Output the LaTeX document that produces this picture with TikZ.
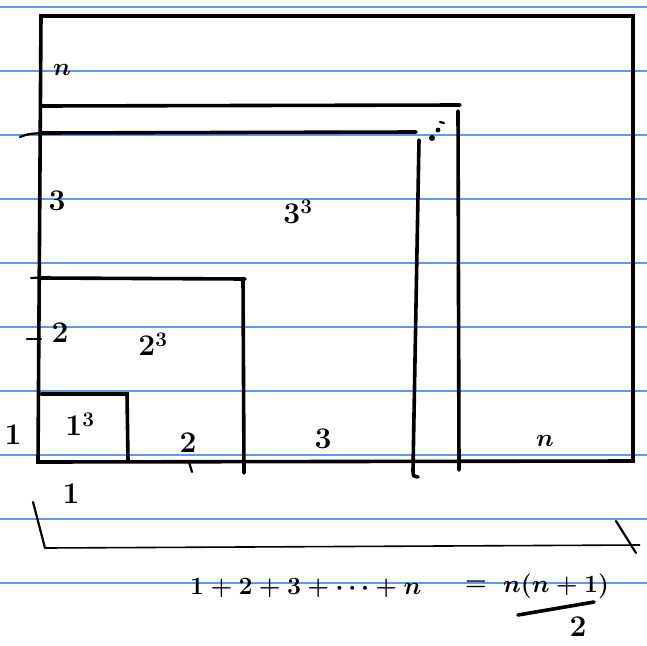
\documentclass[tikz,border=0pt]{standalone}
\usetikzlibrary{calc}
\definecolor{rule}{RGB}{95,155,225}
\tikzset{
  ruled/.style={draw=rule,line width=1.2pt},
  ink/.style={draw=black,line width=3.6pt,line cap=round},
  thin ink/.style={draw=black,line width=2.2pt,line cap=round},
  lbl/.style={inner sep=0pt,font=\fontsize{30}{34}\selectfont\bfseries\boldmath}
}
\begin{document}
\begin{tikzpicture}[x=1pt,y=-1pt]
\useasboundingbox (0,0) rectangle (647,645);
\fill[white] (0,0) rectangle (647,645);
% ruled paper
\foreach \yy in {7,71,135,199,263,327,391,455,519,583}
  \draw[ruled] (0,\yy) -- (647,\yy);
% outer n-square
\draw[ink] (41,16) -- (633,16) -- (633,461) -- (38,462) -- cycle;
% n strip
\draw[ink] (41,106) -- (460,105);
\draw[ink] (458,111) -- (459,470);
% (n-1) square
\draw[ink] (41,133) -- (416,132);
\draw[thin ink] (20,137) .. controls (28,134) .. (41,133);
\draw[ink] (419,140) -- (413,470) .. controls (413,476) .. (418,477);
% 2-square
\draw[ink] (41,278) -- (245,279);
\draw[thin ink] (31,278) -- (50,277);
\draw[ink] (243,279) -- (244,473);
% 1-square
\draw[ink] (41,394) -- (127,394) -- (128,461);
% ticks
\draw[thin ink] (27,339) -- (41,339);
\draw[thin ink] (189,462) -- (192,472);
% dots
\fill (432,138) circle (3);
\fill (438,130) circle (2.4);
\draw[thin ink] (440,122) -- (444,123);
% side labels
\node[lbl] (ln) at (62,70) {$n$};
\node[lbl] (l3) at (57,201) {3};
\node[lbl] (l2) at (60,333) {2};
\node[lbl] (l1) at (13,435) {1};
% cube labels
\node[lbl] (c1) at (80,424) {1$^3$};
\node[lbl] (c2) at (153,344) {2$^3$};
\node[lbl] (c3) at (298,212) {3$^3$};
% bottom labels
\node[lbl] (b2) at (188,443) {2};
\node[lbl] (b3) at (323,439) {3};
\node[lbl] (bn) at (545,441) {$n$};
\node[lbl] (b1) at (71,494) {1};
% brace
\coordinate (bl) at (45,548);
\coordinate (br) at (640,545);
\draw[thin ink] (33,502) -- (bl);
\draw[line width=1.6pt] (bl) -- (br);
\draw[thin ink] (616,521) -- (636,553);
% formula
\node[lbl,anchor=west] (sum) at (190,588) {$1+2+3+\cdots+n$};
\node[lbl] (eq) at (476,586) {$=$};
\node[lbl,anchor=west] (num) at (503,586) {$n(n+1)$};
\coordinate (fb1) at (518,615);
\coordinate (fb2) at (594,602);
\draw[ink] (fb1) -- (fb2);
\node[lbl,anchor=base] (den) at (578,636) {2};
\end{tikzpicture}
\end{document}
